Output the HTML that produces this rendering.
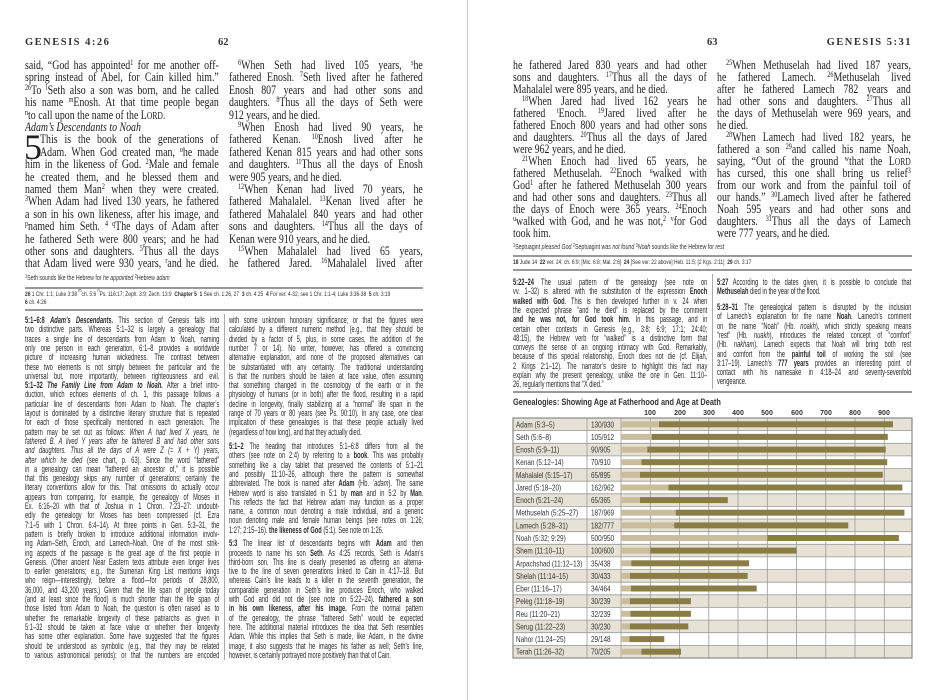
<!DOCTYPE html>
<html><head><meta charset="utf-8">
<style>
body{margin:0;background:#fff;}
#pg{position:relative;width:936px;height:700px;overflow:hidden;background:#fff;color:#222;}
.b{position:absolute;height:14px;line-height:14px;font-family:"Liberation Serif",serif;font-size:13px;width:255px;text-align:justify;text-align-last:justify;overflow:hidden;transform:scaleX(.76);transform-origin:0 0;white-space:normal;color:#1e1e1e;}
.c{position:absolute;height:11px;line-height:11px;font-family:"Liberation Sans",sans-serif;font-size:9px;width:306px;text-align:justify;text-align-last:justify;overflow:hidden;transform:scaleX(.635);transform-origin:0 0;color:#2a2a2a;}
.e{text-align-last:left;}
.i{text-indent:12px;}
sup{font-size:8px;line-height:0;position:relative;vertical-align:baseline;top:-4px;}
.hd{position:absolute;font-family:"Liberation Serif",serif;font-weight:bold;font-size:10.5px;letter-spacing:1.5px;color:#333;white-space:nowrap;}
.rule{position:absolute;height:2px;background:#999;}
.vr{position:absolute;width:1px;background:#aaa;}
.fn{position:absolute;font-family:"Liberation Sans",sans-serif;font-size:6.5px;white-space:nowrap;transform:scaleX(.75);transform-origin:0 0;color:#333;}
.sc{font-size:10px;}
</style></head><body><div id="pg">
<div class="vr" style="left:467px;top:0;height:700px;background:#c8c8c8"></div>

<div class="hd" style="left:25px;top:37px">GENESIS 4:26</div>
<div class="hd" style="left:218px;top:37px;letter-spacing:0">62</div>
<div class="hd" style="left:707px;top:37px;letter-spacing:0">63</div>
<div class="hd" style="left:792px;top:37px;width:120px;text-align:right">GENESIS 5:31</div>

<!-- left body col1 -->
<div class="b" style="left:25px;top:58px">said, “God has appointed<sup>1</sup> for me another off-</div>
<div class="b" style="left:25px;top:70.4px">spring instead of Abel, for Cain killed him.”</div>
<div class="b" style="left:25px;top:82.8px"><sup>26</sup>To <sup>l</sup>Seth also a son was born, and he called</div>
<div class="b" style="left:25px;top:95.2px">his name <sup>m</sup>Enosh. At that time people began</div>
<div class="b e" style="left:25px;top:107.6px"><sup>n</sup>to call upon the name of the L<span class="sc">ORD</span>.</div>
<div class="b e" style="left:25px;top:120px;font-style:italic">Adam’s Descendants to Noah</div>
<div style="position:absolute;left:24px;top:129px;font:36px 'Liberation Serif',serif;line-height:36px;color:#222">5</div>
<div class="b" style="left:40px;top:132.4px;width:235px">This is the book of the generations of</div>
<div class="b" style="left:40px;top:144.8px;width:235px">Adam. When God created man, <sup>o</sup>he made</div>
<div class="b" style="left:25px;top:157.2px">him in the likeness of God. <sup>2</sup>Male and female</div>
<div class="b" style="left:25px;top:169.6px">he created them, and he blessed them and</div>
<div class="b" style="left:25px;top:182px">named them Man<sup>2</sup> when they were created.</div>
<div class="b" style="left:25px;top:194.4px"><sup>3</sup>When Adam had lived 130 years, he fathered</div>
<div class="b" style="left:25px;top:206.8px">a son in his own likeness, after his image, and</div>
<div class="b" style="left:25px;top:219.2px"><sup>p</sup>named him Seth. <sup>4 q</sup>The days of Adam after</div>
<div class="b" style="left:25px;top:231.6px">he fathered Seth were 800 years; and he had</div>
<div class="b" style="left:25px;top:244px">other sons and daughters. <sup>5</sup>Thus all the days</div>
<div class="b" style="left:25px;top:256.4px">that Adam lived were 930 years, <sup>r</sup>and he died.</div>

<!-- left body col2 -->
<div class="b i" style="left:229px;top:58px"><sup>6</sup>When Seth had lived 105 years, <sup>s</sup>he</div>
<div class="b" style="left:229px;top:70.4px">fathered Enosh. <sup>7</sup>Seth lived after he fathered</div>
<div class="b" style="left:229px;top:82.8px">Enosh 807 years and had other sons and</div>
<div class="b" style="left:229px;top:95.2px">daughters. <sup>8</sup>Thus all the days of Seth were</div>
<div class="b e" style="left:229px;top:107.6px">912 years, and he died.</div>
<div class="b i" style="left:229px;top:120px"><sup>9</sup>When Enosh had lived 90 years, he</div>
<div class="b" style="left:229px;top:132.4px">fathered Kenan. <sup>10</sup>Enosh lived after he</div>
<div class="b" style="left:229px;top:144.8px">fathered Kenan 815 years and had other sons</div>
<div class="b" style="left:229px;top:157.2px">and daughters. <sup>11</sup>Thus all the days of Enosh</div>
<div class="b e" style="left:229px;top:169.6px">were 905 years, and he died.</div>
<div class="b i" style="left:229px;top:182px"><sup>12</sup>When Kenan had lived 70 years, he</div>
<div class="b" style="left:229px;top:194.4px">fathered Mahalalel. <sup>13</sup>Kenan lived after he</div>
<div class="b" style="left:229px;top:206.8px">fathered Mahalalel 840 years and had other</div>
<div class="b" style="left:229px;top:219.2px">sons and daughters. <sup>14</sup>Thus all the days of</div>
<div class="b e" style="left:229px;top:231.6px">Kenan were 910 years, and he died.</div>
<div class="b i" style="left:229px;top:244px"><sup>15</sup>When Mahalalel had lived 65 years,</div>
<div class="b" style="left:229px;top:256.4px">he fathered Jared. <sup>16</sup>Mahalalel lived after</div>

<div class="fn" style="left:25px;top:275px;font-size:7px"><sup style="font-size:5px;top:-2px">1</sup>Seth sounds like the Hebrew for <i>he appointed</i> <sup style="font-size:5px;top:-2px">2</sup>Hebrew <i>adam</i></div>
<div class="rule" style="left:25px;top:287px;width:398px"></div>
<div class="fn" style="left:25px;top:291px"><b>26</b> 1 Chr. 1:1; Luke 3:38 <sup style="font-size:5px">m</sup>ch. 5:6 <sup style="font-size:5px">n</sup>Ps. 116:17; Zeph. 3:9; Zech. 13:9 &nbsp;<b>Chapter 5</b> &nbsp;<b>1</b> See ch. 1:26, 27 &nbsp;<b>3</b> ch. 4:25 &nbsp;<b>4</b> For ver. 4-32, see 1 Chr. 1:1-4; Luke 3:36-38 &nbsp;<b>5</b> ch. 3:19</div>
<div class="fn" style="left:25px;top:299px"><b>6</b> ch. 4:26</div>
<div class="rule" style="left:25px;top:309px;width:398px"></div>

<div class="vr" style="left:224px;top:314px;height:346px"></div>
<!-- left commentary col1 -->
<div class="c" style="left:25px;top:315px"><b>5:1–6:8</b> <b><i>Adam’s Descendants.</i></b> This section of Genesis falls into</div>
<div class="c" style="left:25px;top:324.3px">two distinctive parts. Whereas 5:1–32 is largely a genealogy that</div>
<div class="c" style="left:25px;top:333.6px">traces a single line of descendants from Adam to Noah, naming</div>
<div class="c" style="left:25px;top:342.9px">only one person in each generation, 6:1–8 provides a worldwide</div>
<div class="c" style="left:25px;top:352.2px">picture of increasing human wickedness. The contrast between</div>
<div class="c" style="left:25px;top:361.5px">these two elements is not simply between the particular and the</div>
<div class="c" style="left:25px;top:370.8px">universal but, more importantly, between righteousness and evil.</div>
<div class="c" style="left:25px;top:380.1px"><b>5:1–32</b> <b><i>The Family Line from Adam to Noah.</i></b> After a brief intro-</div>
<div class="c" style="left:25px;top:389.4px">duction, which echoes elements of ch. 1, this passage follows a</div>
<div class="c" style="left:25px;top:398.7px">particular line of descendants from Adam to Noah. The chapter’s</div>
<div class="c" style="left:25px;top:408px">layout is dominated by a distinctive literary structure that is repeated</div>
<div class="c" style="left:25px;top:417.3px">for each of those specifically mentioned in each generation. The</div>
<div class="c" style="left:25px;top:426.6px">pattern may be set out as follows: <i>When A had lived X years, he</i></div>
<div class="c" style="left:25px;top:435.9px"><i>fathered B. A lived Y years after he fathered B and had other sons</i></div>
<div class="c" style="left:25px;top:445.2px"><i>and daughters. Thus all the days of A were Z (= X + Y) years,</i></div>
<div class="c" style="left:25px;top:454.5px"><i>after which he died</i> (see chart, p. 63). Since the word “fathered”</div>
<div class="c" style="left:25px;top:463.8px">in a genealogy can mean “fathered an ancestor of,” it is possible</div>
<div class="c" style="left:25px;top:473.1px">that this genealogy skips any number of generations; certainly the</div>
<div class="c" style="left:25px;top:482.4px">literary conventions allow for this. That omissions do actually occur</div>
<div class="c" style="left:25px;top:491.7px">appears from comparing, for example, the genealogy of Moses in</div>
<div class="c" style="left:25px;top:501px">Ex. 6:16–20 with that of Joshua in 1 Chron. 7:23–27: undoubt-</div>
<div class="c" style="left:25px;top:510.3px">edly the genealogy for Moses has been compressed (cf. Ezra</div>
<div class="c" style="left:25px;top:519.6px">7:1–5 with 1 Chron. 6:4–14). At three points in Gen. 5:3–31, the</div>
<div class="c" style="left:25px;top:528.9px">pattern is briefly broken to introduce additional information involv-</div>
<div class="c" style="left:25px;top:538.2px">ing Adam–Seth, Enoch, and Lamech–Noah. One of the most strik-</div>
<div class="c" style="left:25px;top:547.5px">ing aspects of the passage is the great age of the first people in</div>
<div class="c" style="left:25px;top:556.8px">Genesis. (Other ancient Near Eastern texts attribute even longer lives</div>
<div class="c" style="left:25px;top:566.1px">to earlier generations; e.g., the Sumerian King List mentions kings</div>
<div class="c" style="left:25px;top:575.4px">who reign—interestingly, before a flood—for periods of 28,800,</div>
<div class="c" style="left:25px;top:584.7px">36,000, and 43,200 years.) Given that the life span of people today</div>
<div class="c" style="left:25px;top:594px">(and at least since the flood) is much shorter than the life span of</div>
<div class="c" style="left:25px;top:603.3px">those listed from Adam to Noah, the question is often raised as to</div>
<div class="c" style="left:25px;top:612.6px">whether the remarkable longevity of these patriarchs as given in</div>
<div class="c" style="left:25px;top:621.9px">5:1–32 should be taken at face value or whether their longevity</div>
<div class="c" style="left:25px;top:631.2px">has some other explanation. Some have suggested that the figures</div>
<div class="c" style="left:25px;top:640.5px">should be understood as symbolic (e.g., that they may be related</div>
<div class="c" style="left:25px;top:649.8px">to various astronomical periods); or that the numbers are encoded</div>

<!-- left commentary col2 -->
<div class="c" style="left:229px;top:315px">with some unknown honorary significance; or that the figures were</div>
<div class="c" style="left:229px;top:324.3px">calculated by a different numeric method (e.g., that they should be</div>
<div class="c" style="left:229px;top:333.6px">divided by a factor of 5, plus, in some cases, the addition of the</div>
<div class="c" style="left:229px;top:342.9px">number 7 or 14). No writer, however, has offered a convincing</div>
<div class="c" style="left:229px;top:352.2px">alternative explanation, and none of the proposed alternatives can</div>
<div class="c" style="left:229px;top:361.5px">be substantiated with any certainty. The traditional understanding</div>
<div class="c" style="left:229px;top:370.8px">is that the numbers should be taken at face value, often assuming</div>
<div class="c" style="left:229px;top:380.1px">that something changed in the cosmology of the earth or in the</div>
<div class="c" style="left:229px;top:389.4px">physiology of humans (or in both) after the flood, resulting in a rapid</div>
<div class="c" style="left:229px;top:398.7px">decline in longevity, finally stabilizing at a “normal” life span in the</div>
<div class="c" style="left:229px;top:408px">range of 70 years or 80 years (see Ps. 90:10). In any case, one clear</div>
<div class="c" style="left:229px;top:417.3px">implication of these genealogies is that these people actually lived</div>
<div class="c e" style="left:229px;top:426.6px">(regardless of how long), and that they actually died.</div>
<div class="c" style="left:229px;top:441px"><b>5:1–2</b> The heading that introduces 5:1–6:8 differs from all the</div>
<div class="c" style="left:229px;top:450.3px">others (see note on 2:4) by referring to a <b>book</b>. This was probably</div>
<div class="c" style="left:229px;top:459.6px">something like a clay tablet that preserved the contents of 5:1–21</div>
<div class="c" style="left:229px;top:468.9px">and possibly 11:10–26, although there the pattern is somewhat</div>
<div class="c" style="left:229px;top:478.2px">abbreviated. The book is named after <b>Adam</b> (Hb. <i>’adam</i>). The same</div>
<div class="c" style="left:229px;top:487.5px">Hebrew word is also translated in 5:1 by <b>man</b> and in 5:2 by <b>Man</b>.</div>
<div class="c" style="left:229px;top:496.8px">This reflects the fact that Hebrew <i>adam</i> may function as a proper</div>
<div class="c" style="left:229px;top:506.1px">name, a common noun denoting a male individual, and a generic</div>
<div class="c" style="left:229px;top:515.4px">noun denoting male and female human beings (see notes on 1:26;</div>
<div class="c e" style="left:229px;top:524.7px">1:27; 2:15–16). <b>the likeness of God</b> (5:1). See note on 1:26.</div>
<div class="c" style="left:229px;top:538.2px"><b>5:3</b> The linear list of descendants begins with <b>Adam</b> and then</div>
<div class="c" style="left:229px;top:547.5px">proceeds to name his son <b>Seth</b>. As 4:25 records, Seth is Adam’s</div>
<div class="c" style="left:229px;top:556.8px">third-born son. This line is clearly presented as offering an alterna-</div>
<div class="c" style="left:229px;top:566.1px">tive to the line of seven generations linked to Cain in 4:17–18. But</div>
<div class="c" style="left:229px;top:575.4px">whereas Cain’s line leads to a killer in the seventh generation, the</div>
<div class="c" style="left:229px;top:584.7px">comparable generation in Seth’s line produces Enoch, who walked</div>
<div class="c" style="left:229px;top:594px">with God and did not die (see note on 5:22–24). <b>fathered a son</b></div>
<div class="c" style="left:229px;top:603.3px"><b>in his own likeness, after his image.</b> From the normal pattern</div>
<div class="c" style="left:229px;top:612.6px">of the genealogy, the phrase “fathered Seth” would be expected</div>
<div class="c" style="left:229px;top:621.9px">here. The additional material introduces the idea that Seth resembles</div>
<div class="c" style="left:229px;top:631.2px">Adam. While this implies that Seth is made, like Adam, in the divine</div>
<div class="c" style="left:229px;top:640.5px">image, it also suggests that he images his father as well; Seth’s line,</div>
<div class="c e" style="left:229px;top:649.8px">however, is certainly portrayed more positively than that of Cain.</div>

<!-- right body col1 -->
<div class="b" style="left:513px;top:58px">he fathered Jared 830 years and had other</div>
<div class="b" style="left:513px;top:70px">sons and daughters. <sup>17</sup>Thus all the days of</div>
<div class="b e" style="left:513px;top:82px">Mahalalel were 895 years, and he died.</div>
<div class="b i" style="left:513px;top:94px"><sup>18</sup>When Jared had lived 162 years he</div>
<div class="b" style="left:513px;top:106px">fathered <sup>t</sup>Enoch. <sup>19</sup>Jared lived after he</div>
<div class="b" style="left:513px;top:118px">fathered Enoch 800 years and had other sons</div>
<div class="b" style="left:513px;top:130px">and daughters. <sup>20</sup>Thus all the days of Jared</div>
<div class="b e" style="left:513px;top:142px">were 962 years, and he died.</div>
<div class="b i" style="left:513px;top:154px"><sup>21</sup>When Enoch had lived 65 years, he</div>
<div class="b" style="left:513px;top:166px">fathered Methuselah. <sup>22</sup>Enoch <sup>u</sup>walked with</div>
<div class="b" style="left:513px;top:178px">God<sup>1</sup> after he fathered Methuselah 300 years</div>
<div class="b" style="left:513px;top:190px">and had other sons and daughters. <sup>23</sup>Thus all</div>
<div class="b" style="left:513px;top:202px">the days of Enoch were 365 years. <sup>24</sup>Enoch</div>
<div class="b" style="left:513px;top:214px"><sup>u</sup>walked with God, and he was not,<sup>2</sup> <sup>v</sup>for God</div>
<div class="b e" style="left:513px;top:226px">took him.</div>
<!-- right body col2 -->
<div class="b i" style="left:717px;top:58px"><sup>25</sup>When Methuselah had lived 187 years,</div>
<div class="b" style="left:717px;top:70px">he fathered Lamech. <sup>26</sup>Methuselah lived</div>
<div class="b" style="left:717px;top:82px">after he fathered Lamech 782 years and</div>
<div class="b" style="left:717px;top:94px">had other sons and daughters. <sup>27</sup>Thus all</div>
<div class="b" style="left:717px;top:106px">the days of Methuselah were 969 years, and</div>
<div class="b e" style="left:717px;top:118px">he died.</div>
<div class="b i" style="left:717px;top:130px"><sup>28</sup>When Lamech had lived 182 years, he</div>
<div class="b" style="left:717px;top:142px">fathered a son <sup>29</sup>and called his name Noah,</div>
<div class="b" style="left:717px;top:154px">saying, “Out of the ground <sup>w</sup>that the L<span class="sc">ORD</span></div>
<div class="b" style="left:717px;top:166px">has cursed, this one shall bring us relief<sup>3</sup></div>
<div class="b" style="left:717px;top:178px">from our work and from the painful toil of</div>
<div class="b" style="left:717px;top:190px">our hands.” <sup>30</sup>Lamech lived after he fathered</div>
<div class="b" style="left:717px;top:202px">Noah 595 years and had other sons and</div>
<div class="b" style="left:717px;top:214px">daughters. <sup>31</sup>Thus all the days of Lamech</div>
<div class="b e" style="left:717px;top:226px">were 777 years, and he died.</div>

<div class="fn" style="left:513px;top:244px;font-size:7px"><sup style="font-size:5px;top:-2px">1</sup>Septuagint <i>pleased God</i> <sup style="font-size:5px;top:-2px">2</sup>Septuagint <i>was not found</i> <sup style="font-size:5px;top:-2px">3</sup><i>Noah</i> sounds like the Hebrew for <i>rest</i></div>
<div class="rule" style="left:513px;top:255px;width:399px"></div>
<div class="fn" style="left:513px;top:259px"><b>18</b> Jude 14 &nbsp;<b>22</b> ver. 24; ch. 6:9; [Mic. 6:8; Mal. 2:6] &nbsp;<b>24</b> [See ver. 22 above] Heb. 11:5; [2 Kgs. 2:11] &nbsp;<b>29</b> ch. 3:17</div>
<div class="rule" style="left:513px;top:269px;width:399px"></div>

<div class="vr" style="left:712px;top:274px;height:115px"></div>
<div class="c" style="left:513px;top:277px"><b>5:22–24</b> The usual pattern of the genealogy (see note on</div>
<div class="c" style="left:513px;top:286.3px">vv. 1–32) is altered with the substitution of the expression <b>Enoch</b></div>
<div class="c" style="left:513px;top:295.6px"><b>walked with God</b>. This is then developed further in v. 24 when</div>
<div class="c" style="left:513px;top:304.9px">the expected phrase “and he died” is replaced by the comment</div>
<div class="c" style="left:513px;top:314.2px"><b>and he was not, for God took him</b>. In this passage, and in</div>
<div class="c" style="left:513px;top:323.5px">certain other contexts in Genesis (e.g., 3:8; 6:9; 17:1; 24:40;</div>
<div class="c" style="left:513px;top:332.8px">48:15), the Hebrew verb for “walked” is a distinctive form that</div>
<div class="c" style="left:513px;top:342.1px">conveys the sense of an ongoing intimacy with God. Remarkably,</div>
<div class="c" style="left:513px;top:351.4px">because of this special relationship, Enoch does not die (cf. Elijah,</div>
<div class="c" style="left:513px;top:360.7px">2 Kings 2:1–12). The narrator’s desire to highlight this fact may</div>
<div class="c" style="left:513px;top:370px">explain why the present genealogy, unlike the one in Gen. 11:10–</div>
<div class="c e" style="left:513px;top:379.3px">26, regularly mentions that “X died.”</div>

<div class="c" style="left:717px;top:277px"><b>5:27</b> According to the dates given, it is possible to conclude that</div>
<div class="c e" style="left:717px;top:286.3px"><b>Methuselah</b> died in the year of the flood.</div>
<div class="c" style="left:717px;top:302px"><b>5:28–31</b> The genealogical pattern is disrupted by the inclusion</div>
<div class="c" style="left:717px;top:311.3px">of Lamech’s explanation for the name <b>Noah</b>. Lamech’s comment</div>
<div class="c" style="left:717px;top:320.6px">on the name “Noah” (Hb. <i>noakh</i>), which strictly speaking means</div>
<div class="c" style="left:717px;top:329.9px">“rest” (Hb. <i>nuakh</i>), introduces the related concept of “comfort”</div>
<div class="c" style="left:717px;top:339.2px">(Hb. <i>nakham</i>). Lamech expects that Noah will bring both rest</div>
<div class="c" style="left:717px;top:348.5px">and comfort from the <b>painful toil</b> of working the soil (see</div>
<div class="c" style="left:717px;top:357.8px">3:17–19). Lamech’s <b>777 years</b> provides an interesting point of</div>
<div class="c" style="left:717px;top:367.1px">contact with his namesake in 4:18–24 and seventy-sevenfold</div>
<div class="c e" style="left:717px;top:376.4px">vengeance.</div>
<div class="rule" style="left:513px;top:391px;width:399px"></div>

<svg style="position:absolute;left:0;top:0" width="936" height="700" font-family="Liberation Sans, sans-serif">
<text x="513" y="405" font-size="9" font-weight="bold" fill="#333" transform="translate(513 0) scale(.82 1) translate(-513 0)">Genealogies: Showing Age at Fatherhood and Age at Death</text>
<g font-size="7" font-weight="bold" fill="#333" text-anchor="middle">
<text x="650" y="415">100</text><text x="680" y="415">200</text><text x="709" y="415">300</text><text x="738" y="415">400</text><text x="767" y="415">500</text><text x="797" y="415">600</text><text x="826" y="415">700</text><text x="855" y="415">800</text><text x="884" y="415">900</text>
</g>
<g fill="#e6e2d5">
<rect x="513" y="418" width="399" height="12.63"/>
<rect x="513" y="443.3" width="399" height="12.63"/>
<rect x="513" y="468.5" width="399" height="12.63"/>
<rect x="513" y="493.8" width="399" height="12.63"/>
<rect x="513" y="519" width="399" height="12.63"/>
<rect x="513" y="544.3" width="399" height="12.63"/>
<rect x="513" y="569.6" width="399" height="12.63"/>
<rect x="513" y="594.8" width="399" height="12.63"/>
<rect x="513" y="620.1" width="399" height="12.63"/>
<rect x="513" y="645.4" width="399" height="12.63"/>
</g>
<g stroke="#9a9a9a" stroke-width="0.8">
<line x1="513" y1="430.6" x2="912" y2="430.6"/><line x1="513" y1="443.3" x2="912" y2="443.3"/><line x1="513" y1="455.9" x2="912" y2="455.9"/><line x1="513" y1="468.5" x2="912" y2="468.5"/><line x1="513" y1="481.2" x2="912" y2="481.2"/><line x1="513" y1="493.8" x2="912" y2="493.8"/><line x1="513" y1="506.4" x2="912" y2="506.4"/><line x1="513" y1="519" x2="912" y2="519"/><line x1="513" y1="531.7" x2="912" y2="531.7"/><line x1="513" y1="544.3" x2="912" y2="544.3"/><line x1="513" y1="556.9" x2="912" y2="556.9"/><line x1="513" y1="569.6" x2="912" y2="569.6"/><line x1="513" y1="582.2" x2="912" y2="582.2"/><line x1="513" y1="594.8" x2="912" y2="594.8"/><line x1="513" y1="607.5" x2="912" y2="607.5"/><line x1="513" y1="620.1" x2="912" y2="620.1"/><line x1="513" y1="632.7" x2="912" y2="632.7"/><line x1="513" y1="645.4" x2="912" y2="645.4"/>
<line x1="587" y1="418" x2="587" y2="658"/><line x1="621" y1="418" x2="621" y2="658"/>
<line x1="650.3" y1="418" x2="650.3" y2="658"/><line x1="679.5" y1="418" x2="679.5" y2="658"/><line x1="708.8" y1="418" x2="708.8" y2="658"/><line x1="738" y1="418" x2="738" y2="658"/><line x1="767.3" y1="418" x2="767.3" y2="658"/><line x1="796.5" y1="418" x2="796.5" y2="658"/><line x1="825.8" y1="418" x2="825.8" y2="658"/><line x1="855" y1="418" x2="855" y2="658"/><line x1="884.3" y1="418" x2="884.3" y2="658"/>
</g>
<rect x="513" y="418" width="399" height="240" fill="none" stroke="#8a8a8a" stroke-width="1.2"/>
<g fill="#c9bd9d">
<rect x="621" y="421.3" width="38" height="6"/><rect x="621" y="433.9" width="30.7" height="6"/><rect x="621" y="446.6" width="26.3" height="6"/><rect x="621" y="459.2" width="20.5" height="6"/><rect x="621" y="471.8" width="19" height="6"/><rect x="621" y="484.5" width="47.4" height="6"/><rect x="621" y="497.1" width="19" height="6"/><rect x="621" y="509.7" width="54.7" height="6"/><rect x="621" y="522.4" width="53.2" height="6"/><rect x="621" y="535" width="146.3" height="6"/><rect x="621" y="547.6" width="29.3" height="6"/><rect x="621" y="560.3" width="10.2" height="6"/><rect x="621" y="572.9" width="8.8" height="6"/><rect x="621" y="585.5" width="9.9" height="6"/><rect x="621" y="598.2" width="8.8" height="6"/><rect x="621" y="610.8" width="9.4" height="6"/><rect x="621" y="623.4" width="8.8" height="6"/><rect x="621" y="636.1" width="8.5" height="6"/><rect x="621" y="648.7" width="20.5" height="6"/>
</g>
<g fill="#8a7c45">
<rect x="659" y="421.3" width="234" height="6"/><rect x="651.7" y="433.9" width="236.1" height="6"/><rect x="647.3" y="446.6" width="238.4" height="6"/><rect x="641.5" y="459.2" width="245.7" height="6"/><rect x="640" y="471.8" width="242.8" height="6"/><rect x="668.4" y="484.5" width="234" height="6"/><rect x="640" y="497.1" width="87.8" height="6"/><rect x="675.7" y="509.7" width="228.7" height="6"/><rect x="674.2" y="522.4" width="174.1" height="6"/><rect x="767.3" y="535" width="131.6" height="6"/><rect x="650.3" y="547.6" width="146.2" height="6"/><rect x="631.2" y="560.3" width="117.9" height="6"/><rect x="629.8" y="572.9" width="117.8" height="6"/><rect x="630.9" y="585.5" width="125.8" height="6"/><rect x="629.8" y="598.2" width="61.1" height="6"/><rect x="630.4" y="610.8" width="60.5" height="6"/><rect x="629.8" y="623.4" width="58.5" height="6"/><rect x="629.5" y="636.1" width="34.8" height="6"/><rect x="641.5" y="648.7" width="39.5" height="6"/>
</g>
<g font-size="8" fill="#333">
<g transform="translate(516 0) scale(.8 1)">
<text x="0" y="427.3">Adam (5:3–5)</text><text x="0" y="439.9">Seth (5:6–8)</text><text x="0" y="452.6">Enosh (5:9–11)</text><text x="0" y="465.2">Kenan (5:12–14)</text><text x="0" y="477.8">Mahalalel (5:15–17)</text><text x="0" y="490.5">Jared (5:18–20)</text><text x="0" y="503.1">Enoch (5:21–24)</text><text x="0" y="515.7">Methuselah (5:25–27)</text><text x="0" y="528.4">Lamech (5:28–31)</text><text x="0" y="541">Noah (5:32; 9:29)</text><text x="0" y="553.6">Shem (11:10–11)</text><text x="0" y="566.3">Arpachshad (11:12–13)</text><text x="0" y="578.9">Shelah (11:14–15)</text><text x="0" y="591.5">Eber (11:16–17)</text><text x="0" y="604.2">Peleg (11:18–19)</text><text x="0" y="616.8">Reu (11:20–21)</text><text x="0" y="629.4">Serug (11:22–23)</text><text x="0" y="642.1">Nahor (11:24–25)</text><text x="0" y="654.7">Terah (11:26–32)</text>
</g>
<g transform="translate(591 0) scale(.8 1)">
<text x="0" y="427.3">130/930</text><text x="0" y="439.9">105/912</text><text x="0" y="452.6">90/905</text><text x="0" y="465.2">70/910</text><text x="0" y="477.8">65/895</text><text x="0" y="490.5">162/962</text><text x="0" y="503.1">65/365</text><text x="0" y="515.7">187/969</text><text x="0" y="528.4">182/777</text><text x="0" y="541">500/950</text><text x="0" y="553.6">100/600</text><text x="0" y="566.3">35/438</text><text x="0" y="578.9">30/433</text><text x="0" y="591.5">34/464</text><text x="0" y="604.2">30/239</text><text x="0" y="616.8">32/239</text><text x="0" y="629.4">30/230</text><text x="0" y="642.1">29/148</text><text x="0" y="654.7">70/205</text>
</g>
</g>
</svg>
</div></body></html>
